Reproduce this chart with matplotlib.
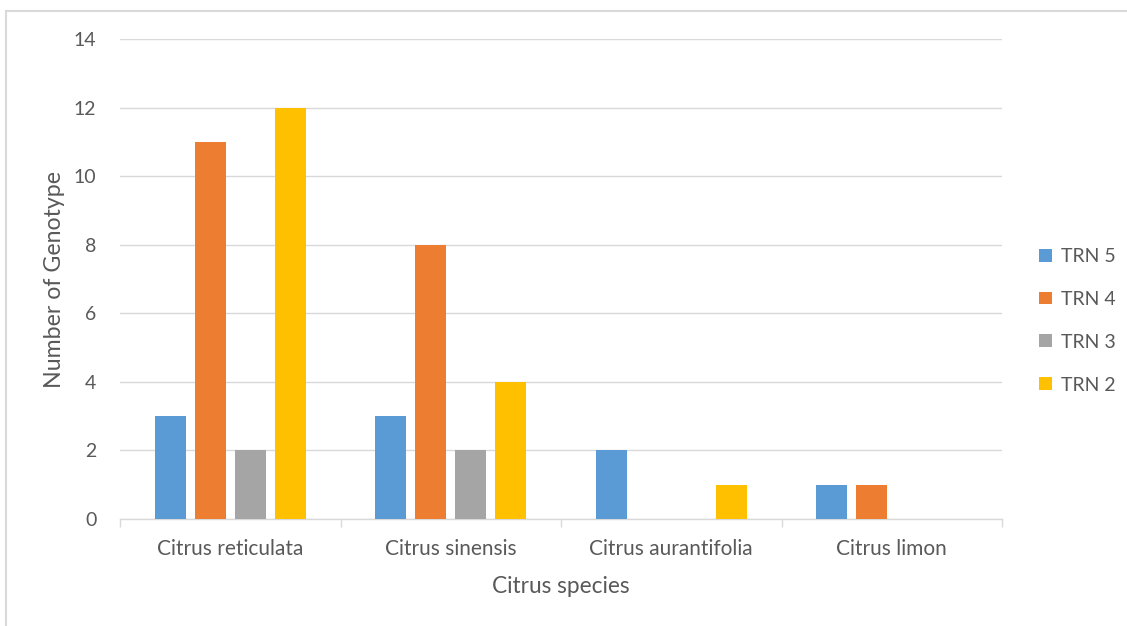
import numpy as np
import matplotlib.pyplot as plt
from matplotlib.lines import Line2D

species = ["Citrus reticulata", "Citrus sinensis", "Citrus aurantifolia", "Citrus limon"]
series_names = ["TRN 5", "TRN 4", "TRN 3", "TRN 2"]
trn5 = [3, 3, 2, 1]
trn4 = [11, 8, 0, 1]
trn3 = [2, 2, 0, 0]
trn2 = [12, 4, 1, 0]
colors = ["#5B9BD5", "#ED7D31", "#A5A5A5", "#FFC000"]

plt.rcParams['font.family'] = ['Lato', 'DejaVu Sans']
txt = "#595959"

fig = plt.figure(figsize=(11.27, 6.26), dpi=100)
# frame: only top and left edges show in the picture
W, H = 1127, 626
fig.lines.append(Line2D([6 / W, 1], [1 - 11 / H, 1 - 11 / H], transform=fig.transFigure,
                        color="#D9D9D9", linewidth=1.5))
fig.lines.append(Line2D([6 / W, 6 / W], [0, 1 - 11 / H], transform=fig.transFigure,
                        color="#D9D9D9", linewidth=1.5))

ax = fig.add_axes([120 / W, 1 - 519 / H, 882 / W, 480 / H])
x = np.arange(len(species))
width = 0.14
step = 0.181
for i, (vals, name) in enumerate(zip([trn5, trn4, trn3, trn2], series_names)):
    offs = (i - 1.5) * step
    ax.bar(x + offs, vals, width, color=colors[i], label=name, zorder=3)

ax.set_xlim(-0.5, len(species) - 0.5)
ax.set_ylim(0, 14)
ax.set_yticks(range(0, 15, 2))
ax.grid(axis="y", color="#D9D9D9", linewidth=1, zorder=0)
for s in ["top", "right", "left"]:
    ax.spines[s].set_visible(False)
ax.spines["bottom"].set_color("#D9D9D9")
ax.spines["bottom"].set_linewidth(1)
ax.tick_params(axis="y", length=0, colors=txt, labelsize=14, pad=17)
ax.set_xticks(x)
ax.set_xticklabels(species)
ax.tick_params(axis="x", length=0, colors=txt, labelsize=15, pad=14.5)
ax.set_xticks(np.arange(-0.5, len(species)), minor=True)
ax.tick_params(axis="x", which="minor", length=6, color="#D9D9D9", width=1)

ax.set_xlabel("Citrus species", fontsize=16.3, color=txt, labelpad=12)
ax.set_ylabel("Number of Genotype", fontsize=16.7, color=txt, labelpad=6)

leg = ax.legend(loc="center left", bbox_to_anchor=(1.0226, 0.413), frameon=False,
                fontsize=14, handlelength=0.65, handleheight=0.65,
                labelspacing=1.33, handletextpad=0.45)
for t in leg.get_texts():
    t.set_color(txt)

fig.savefig("out.png", dpi=100)
